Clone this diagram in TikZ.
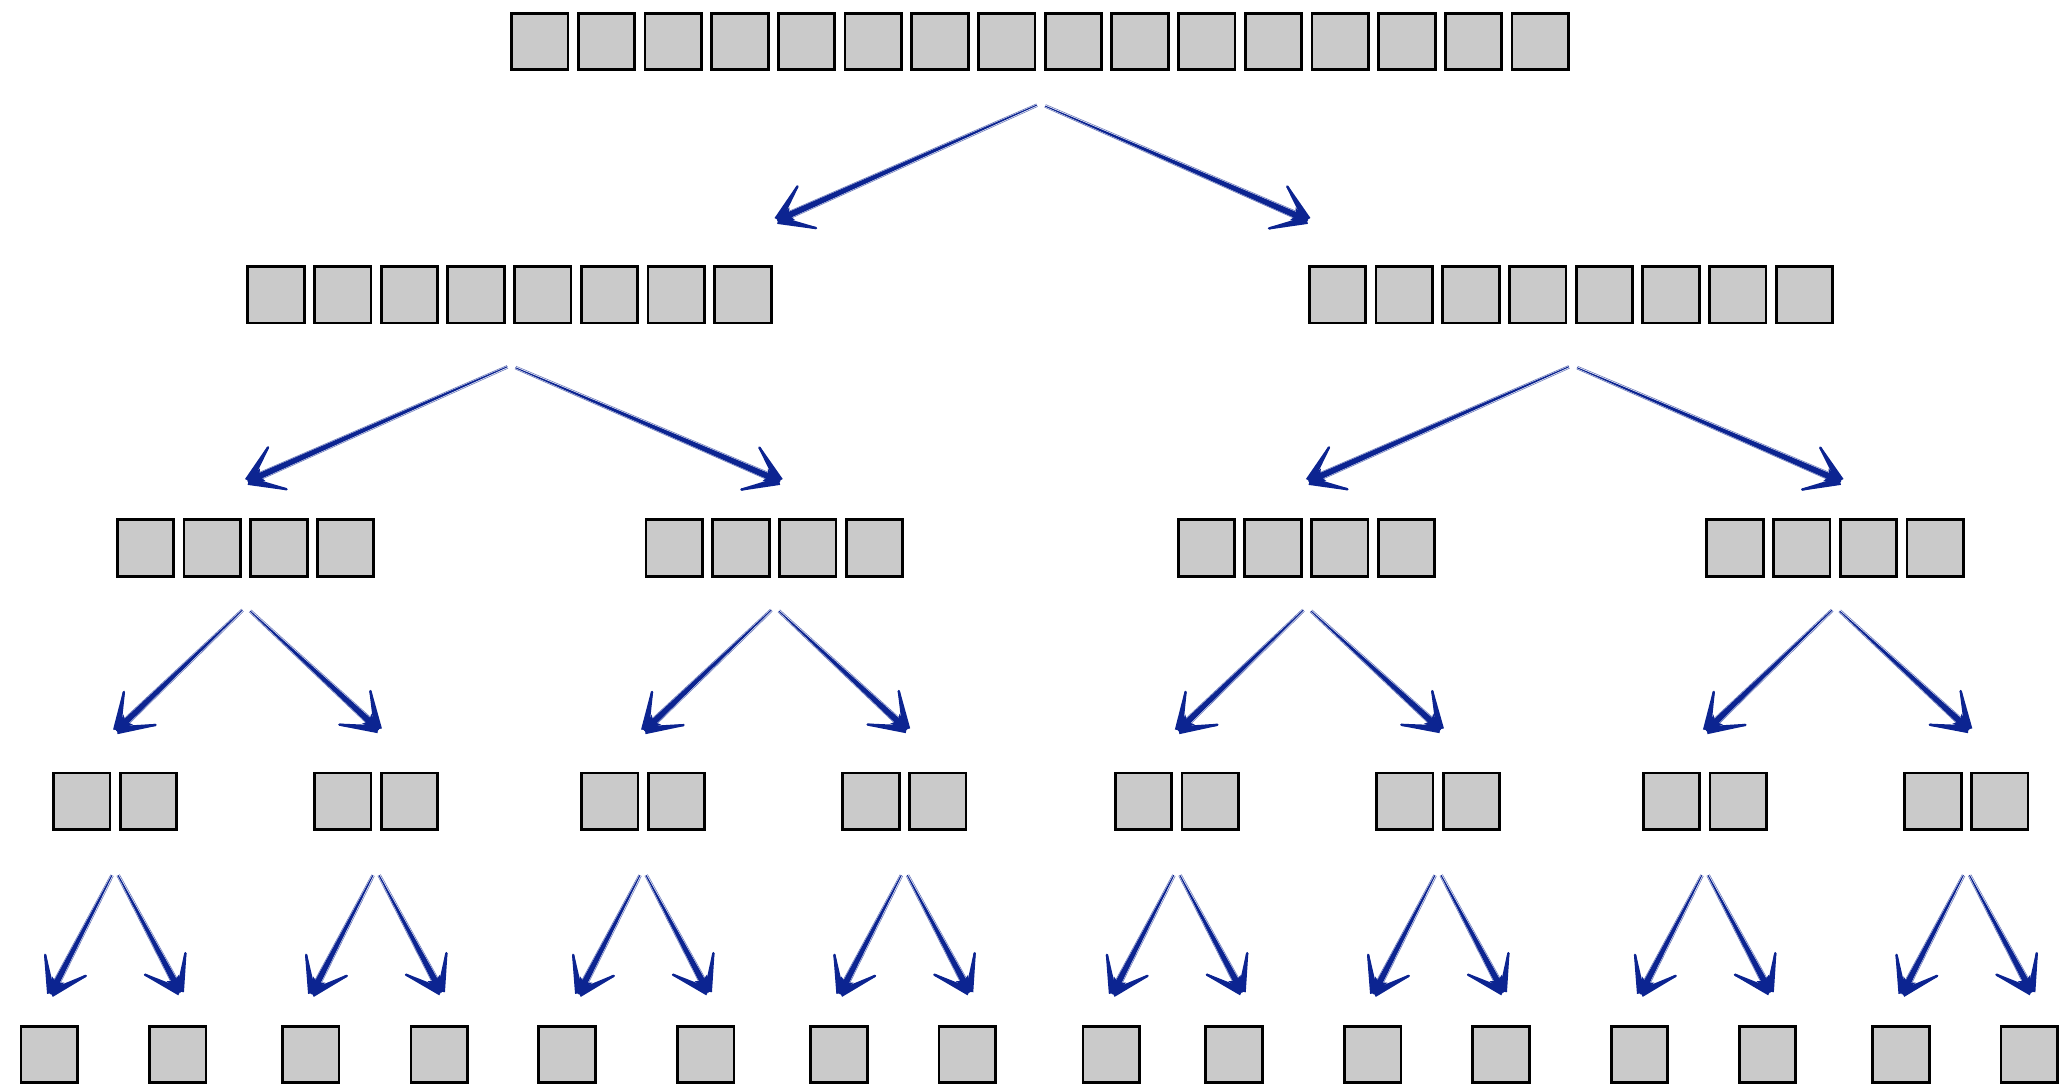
\documentclass[tikz,border=0pt]{standalone}
\usetikzlibrary{calc}
\definecolor{skc}{RGB}{12,36,145}
\definecolor{boxgray}{RGB}{202,202,202}
\tikzset{
  bx/.style={draw=black, fill=boxgray, line width=2.8pt, minimum width=56.5pt, minimum height=56.5pt, inner sep=0pt, outer sep=0pt},
  strand/.style={draw=skc, line width=0.6pt, opacity=0.6},
}
\newcommand\grp[4]{%
  \coordinate (#1) at (#2,#3);
  \foreach \i in {1,...,#4}{%
    \node[bx] (#1-\i) at ($(#1)+({(\i-(#4+1)/2)*66.7},0)$) {};
  }%
}
\newcommand\skarrow[2]{%
  \coordinate (S) at #1;
  \coordinate (E) at #2;
  \coordinate (N) at ($(E)!10pt!(S)$);
  \coordinate (B1) at ($(E)!39pt!36:(S)$);
  \coordinate (B2) at ($(E)!39pt!-36:(S)$);
  % tapered shaft
  \fill[skc] ($(S)!0.5pt!90:(E)$) -- ($(N)!3.1pt!-90:(S)$) -- (E) -- ($(N)!3.1pt!90:(S)$) -- ($(S)!0.5pt!-90:(E)$) -- cycle;
  \draw[strand] ($(S)!1.6pt!90:(E)$) -- ($(N)!3.8pt!-90:(S)$);
  \draw[strand] ($(S)!1.3pt!-90:(E)$) -- ($(N)!3.6pt!90:(S)$);
  % barbs
  \fill[skc] ($(E)!4pt!90:(B1)$) -- ($(B1)!1.1pt!-90:(E)$) -- ($(B1)!1.1pt!90:(E)$) -- ($(E)!4pt!-90:(B1)$) -- cycle;
  \fill[skc] ($(E)!4pt!90:(B2)$) -- ($(B2)!1.1pt!-90:(E)$) -- ($(B2)!1.1pt!90:(E)$) -- ($(E)!4pt!-90:(B2)$) -- cycle;
  \draw[skc, line width=2.2pt, line cap=round, line join=round] (B1) -- (E) -- (B2);
  \fill[skc] (E) -- ($(E)!17pt!24:(S)$) -- ($(E)!12pt!0:(S)$) -- ($(E)!17pt!-24:(S)$) -- cycle;
}
\begin{document}
\begin{tikzpicture}[x=1pt, y=-1pt]
\fill[white] (0,0) rectangle (2067,1086);
\useasboundingbox (0,0) rectangle (2067,1086);
% level 1
\grp{r1}{1040}{41.5}{16}
% level 2
\grp{a1}{509.4}{294.7}{8}
\grp{a2}{1571}{294.7}{8}
% level 3
\grp{b1}{245.5}{548}{4}
\grp{b2}{774.3}{548}{4}
\grp{b3}{1306.4}{548}{4}
\grp{b4}{1835.1}{548}{4}
% level 4
\grp{c1}{115}{801.2}{2}
\grp{c2}{376}{801.2}{2}
\grp{c3}{643}{801.2}{2}
\grp{c4}{904.3}{801.2}{2}
\grp{c5}{1176.8}{801.2}{2}
\grp{c6}{1438}{801.2}{2}
\grp{c7}{1704.9}{801.2}{2}
\grp{c8}{1966.4}{801.2}{2}
% level 5
\grp{d1}{49.3}{1054.5}{1}
\grp{d2}{177.7}{1054.5}{1}
\grp{d3}{310.8}{1054.5}{1}
\grp{d4}{439.2}{1054.5}{1}
\grp{d5}{567}{1054.5}{1}
\grp{d6}{705.7}{1054.5}{1}
\grp{d7}{839}{1054.5}{1}
\grp{d8}{967.3}{1054.5}{1}
\grp{d9}{1111.3}{1054.5}{1}
\grp{d10}{1234}{1054.5}{1}
\grp{d11}{1372.7}{1054.5}{1}
\grp{d12}{1501}{1054.5}{1}
\grp{d13}{1639.4}{1054.5}{1}
\grp{d14}{1767.6}{1054.5}{1}
\grp{d15}{1900.9}{1054.5}{1}
\grp{d16}{2029.2}{1054.5}{1}
% arrows level 1 -> 2
\skarrow{($(r1)+(-3,63.5)$)}{($(a1)+(268.6,-74.7)$)}
\skarrow{($(r1)+(5,64.5)$)}{($(a2)+(-264,-74.7)$)}
% arrows level 2 -> 3
\foreach \p/\l/\r in {a1/b1/b2, a2/b3/b4}{%
  \skarrow{($(\p)+(-2,72)$)}{($(\l)+(3,-67)$)}
  \skarrow{($(\p)+(6,73)$)}{($(\r)+(5,-67)$)}
}
% arrows level 3 -> 4
\foreach \p/\l/\r in {b1/c1/c2, b2/c3/c4, b3/c5/c6, b4/c7/c8}{%
  \skarrow{($(\p)+(-3,62)$)}{($(\l)+(2,-71)$)}
  \skarrow{($(\p)+(4.5,63)$)}{($(\r)+(2,-72)$)}
}
% arrows level 4 -> 5
\foreach \p/\l/\r/\dl/\dr in {c1/d1/d2/1.7/2.3, c2/d3/d4/1.2/1.8, c3/d5/d6/12/2.3, c4/d7/d8/1.3/2, c5/d9/d10/1.5/7.8, c6/d11/d12/1.3/2, c7/d13/d14/1.5/2.3, c8/d15/d16/1.5/2.2}{%
  \skarrow{($(\p)+(-3,74)$)}{($(\l)+(\dl,-61.2)$)}
  \skarrow{($(\p)+(3,74)$)}{($(\r)+(\dr,-62.8)$)}
}
\end{tikzpicture}
\end{document}
